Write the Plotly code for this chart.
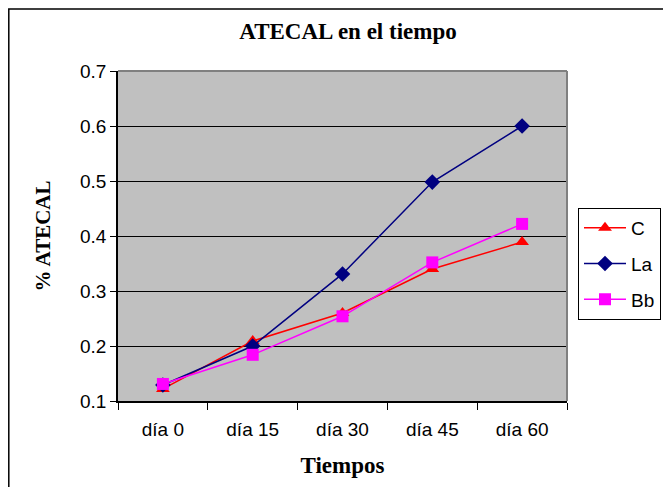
import plotly.graph_objects as go

categories = ["día 0", "día 15", "día 30", "día 45", "día 60"]
c_vals = [0.122, 0.209, 0.26, 0.34, 0.389]
la_vals = [0.129, 0.200, 0.331, 0.498, 0.600]
bb_vals = [0.131, 0.184, 0.254, 0.352, 0.422]
y_ticks = [0.1, 0.2, 0.3, 0.4, 0.5, 0.6, 0.7]

fig = go.Figure()
series = [
    ("C", c_vals, "#FF0000", "triangle-up"),
    ("La", la_vals, "#000080", "diamond"),
    ("Bb", bb_vals, "#FF00FF", "square"),
]
for name, vals, col, sym in series:
    fig.add_trace(go.Scatter(
        x=categories, y=vals, name=name, mode="lines+markers",
        legendgroup=name,
        line=dict(color=col, width=1.5),
        marker=dict(symbol=sym, size=12, color=col),
    ))

# page body has an 8px margin; figure sizes compensate for it
OFF = 8
W, H = 671 - OFF, 487 - OFF
L, T = 118 - OFF, 71 - OFF
pw, ph = 449, 330
R, B = W - L - pw, H - T - ph

fig.update_layout(
    width=W, height=H,
    margin=dict(l=L, r=R, t=T, b=B, autoexpand=False),
    paper_bgcolor="white",
    plot_bgcolor="#C0C0C0",
    title=dict(text="<b>ATECAL en el tiempo</b>", x=(348 - OFF) / W, xanchor="center",
               y=1 - (31 - OFF) / H, yanchor="middle",
               font=dict(family="Liberation Serif", size=23, color="black")),
    font=dict(family="Liberation Sans", size=19, color="black"),
    showlegend=True,
    legend=dict(xref="container", yref="container",
                x=(578 - OFF) / W, xanchor="left",
                y=1 - (208 - OFF) / H, yanchor="top",
                bgcolor="white", bordercolor="black", borderwidth=1,
                font=dict(family="Liberation Sans", size=19, color="black"),
                traceorder="grouped", tracegroupgap=8, itemwidth=42),
    xaxis=dict(
        type="category", range=[-0.5, 4.5], tickson="boundaries",
        ticks="outside", ticklen=7, tickcolor="black", tickwidth=1,
        showline=True, linecolor="black", linewidth=1.5,
        showgrid=False, ticklabelstandoff=10,
        title=dict(text="<b>Tiempos</b>", standoff=18,
                   font=dict(family="Liberation Serif", size=23, color="black")),
    ),
    yaxis=dict(
        range=[0.1, 0.7], tickvals=y_ticks, ticktext=[str(v) for v in y_ticks],
        ticks="outside", ticklen=6, tickcolor="black", tickwidth=1,
        showline=True, linecolor="black", linewidth=1.5,
        showgrid=True, gridcolor="black", gridwidth=1,
        zeroline=False,
        title=dict(text="<b>% ATECAL</b>", standoff=24,
                   font=dict(family="Liberation Serif", size=21, color="black")),
    ),
    shapes=[
        dict(type="line", xref="paper", yref="paper", x0=0, x1=1, y0=1, y1=1,
             line=dict(color="#808080", width=2), layer="above"),
        dict(type="line", xref="paper", yref="paper", x0=1, x1=1, y0=0, y1=1,
             line=dict(color="#808080", width=2), layer="above"),
        dict(type="rect", xref="paper", yref="paper",
             x0=(0.8 - L) / pw, x1=(W + 5 - L) / pw,
             y0=-(B + 5) / ph, y1=(ph + T - 1) / ph,
             line=dict(color="black", width=1.5), fillcolor="rgba(0,0,0,0)", layer="above"),
    ],
)

fig.write_html("out.html")
